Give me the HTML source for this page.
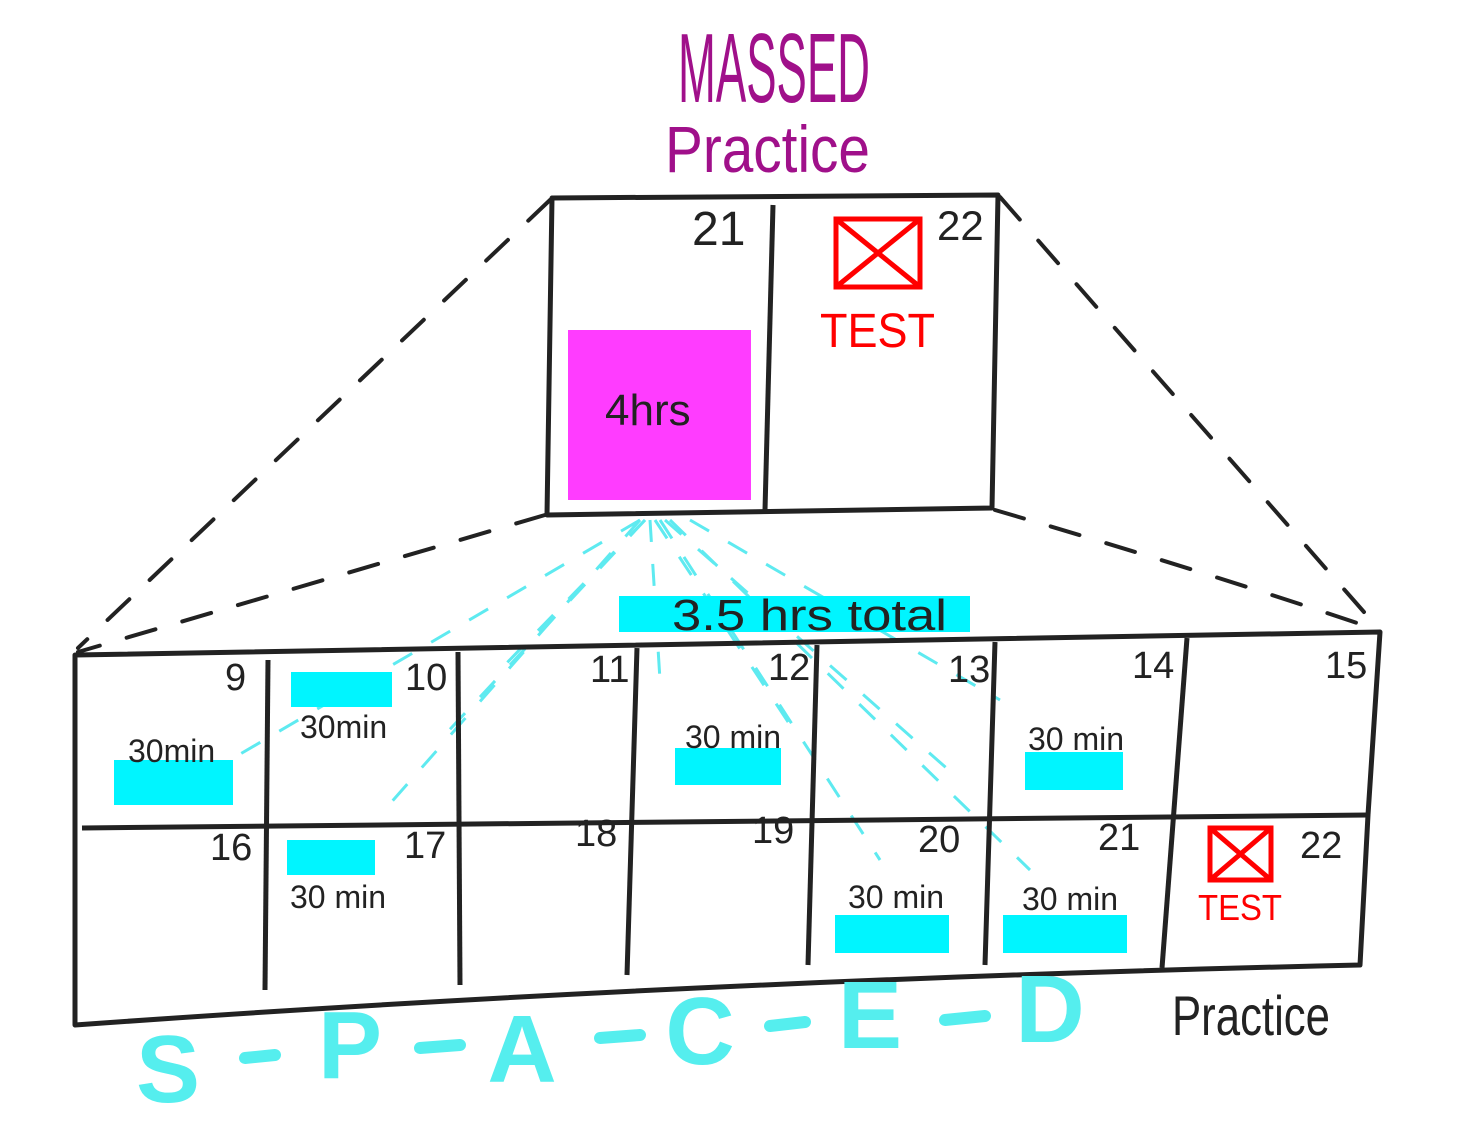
<!DOCTYPE html>
<html><head><meta charset="utf-8"><style>
html,body{margin:0;padding:0;background:#fff;}
svg{display:block}
text{font-family:"Liberation Sans",sans-serif;}
</style></head><body>
<svg width="1483" height="1130" viewBox="0 0 1483 1130" xmlns="http://www.w3.org/2000/svg">
<rect width="1483" height="1130" fill="#fff"/>
<!-- title -->
<text x="678" y="102" font-size="98" fill="#a0108a" textLength="192" lengthAdjust="spacingAndGlyphs">MASSED</text>
<text x="665" y="172" font-size="66" fill="#a0108a" textLength="205" lengthAdjust="spacingAndGlyphs">Practice</text>

<!-- dashed connectors -->
<g stroke="#222" stroke-width="4" stroke-dasharray="30 28" fill="none" stroke-linecap="round">
<line x1="550" y1="200" x2="78" y2="648"/>
<line x1="1000" y1="197" x2="1378" y2="628"/>
<line x1="545" y1="515" x2="78" y2="652"/>
<path d="M995 510 Q1200 570 1378 630"/>
</g>
<!-- cyan dashed fan -->
<g stroke="#5eeaf0" stroke-width="3" stroke-dasharray="22 22" fill="none">
<line x1="640" y1="520" x2="230" y2="760"/>
<line x1="640" y1="520" x2="380" y2="815"/>
<line x1="645" y1="520" x2="500" y2="670"/>
<line x1="645" y1="520" x2="440" y2="740"/>
<line x1="650" y1="520" x2="660" y2="680"/>
<line x1="655" y1="520" x2="800" y2="740"/>
<line x1="660" y1="520" x2="880" y2="860"/>
<line x1="665" y1="520" x2="960" y2="780"/>
<line x1="670" y1="520" x2="1030" y2="870"/>
<line x1="690" y1="520" x2="1000" y2="700"/>
</g>

<!-- top box -->
<rect x="568" y="330" width="183" height="170" fill="#ff3cff"/>
<g stroke="#222" stroke-width="5" fill="none" stroke-linejoin="round">
<polygon points="552,198 998,195 992,508 547,515"/>
<line x1="773" y1="205" x2="765" y2="510"/>
</g>
<text x="605" y="425" font-size="44" fill="#222">4hrs</text>
<text x="692" y="245" font-size="48" fill="#222">21</text>
<text x="937" y="240" font-size="42" fill="#222">22</text>
<g stroke="#f00" stroke-width="5" fill="none">
<rect x="836" y="219" width="84" height="68"/>
<line x1="836" y1="219" x2="920" y2="287"/><line x1="920" y1="219" x2="836" y2="287"/>
</g>
<text x="820" y="347" font-size="48" fill="#f00" textLength="115" lengthAdjust="spacingAndGlyphs">TEST</text>

<!-- 3.5 hrs total -->
<rect x="619" y="596" width="351" height="36" fill="#00f5ff"/>
<text x="672" y="630" font-size="44" fill="#222" textLength="275" lengthAdjust="spacingAndGlyphs">3.5 hrs total</text>

<!-- cyan bars -->
<g fill="#00f5ff">
<rect x="114" y="760" width="119" height="45"/>
<rect x="291" y="672" width="101" height="35"/>
<rect x="675" y="748" width="106" height="37"/>
<rect x="1025" y="752" width="98" height="38"/>
<rect x="287" y="840" width="88" height="35"/>
<rect x="835" y="915" width="114" height="38"/>
<rect x="1003" y="915" width="124" height="38"/>
</g>

<!-- bottom calendar -->
<g stroke="#222" stroke-width="5" fill="none" stroke-linejoin="round">
<path d="M75 655 L1380 632 L1368 815 L1360 965 Q700 980 75 1025 Z"/>
<line x1="82" y1="828" x2="1368" y2="815"/>
<line x1="268" y1="660" x2="265" y2="990"/>
<line x1="458" y1="652" x2="460" y2="985"/>
<line x1="637" y1="648" x2="627" y2="975"/>
<line x1="817" y1="645" x2="808" y2="965"/>
<line x1="995" y1="642" x2="985" y2="965"/>
<line x1="1187" y1="638" x2="1162" y2="968"/>
</g>
<g font-size="38" fill="#222">
<text x="225" y="690">9</text>
<text x="405" y="690">10</text>
<text x="590" y="682">11</text>
<text x="768" y="680">12</text>
<text x="948" y="682">13</text>
<text x="1132" y="678">14</text>
<text x="1325" y="678">15</text>
<text x="210" y="860">16</text>
<text x="404" y="858">17</text>
<text x="575" y="846">18</text>
<text x="752" y="843">19</text>
<text x="918" y="852">20</text>
<text x="1098" y="850">21</text>
<text x="1300" y="858">22</text>
</g>
<g font-size="32" fill="#222">
<text x="128" y="762">30min</text>
<text x="300" y="738">30min</text>
<text x="685" y="748">30 min</text>
<text x="1028" y="750">30 min</text>
<text x="290" y="908">30 min</text>
<text x="848" y="908">30 min</text>
<text x="1022" y="910">30 min</text>
</g>
<g stroke="#f00" stroke-width="5" fill="none">
<rect x="1210" y="828" width="61" height="52"/>
<line x1="1210" y1="828" x2="1271" y2="880"/><line x1="1271" y1="828" x2="1210" y2="880"/>
</g>
<text x="1198" y="920" font-size="36" fill="#f00" textLength="84" lengthAdjust="spacingAndGlyphs">TEST</text>

<text x="1172" y="1035" font-size="56" fill="#222" textLength="158" lengthAdjust="spacingAndGlyphs">Practice</text>

<!-- SPACED -->
<g font-size="96" fill="#55eeee" font-weight="bold" text-anchor="middle">
<text x="168" y="1102">S</text>
<text x="350" y="1078">P</text>
<text x="522" y="1082">A</text>
<text x="700" y="1064">C</text>
<text x="870" y="1048">E</text>
<text x="1050" y="1042">D</text>
</g>
<g stroke="#55eeee" stroke-width="12" stroke-linecap="round">
<line x1="245" y1="1058" x2="275" y2="1055"/>
<line x1="420" y1="1048" x2="460" y2="1045"/>
<line x1="600" y1="1038" x2="640" y2="1035"/>
<line x1="770" y1="1026" x2="805" y2="1022"/>
<line x1="945" y1="1020" x2="985" y2="1016"/>
</g>
</svg>
</body></html>
